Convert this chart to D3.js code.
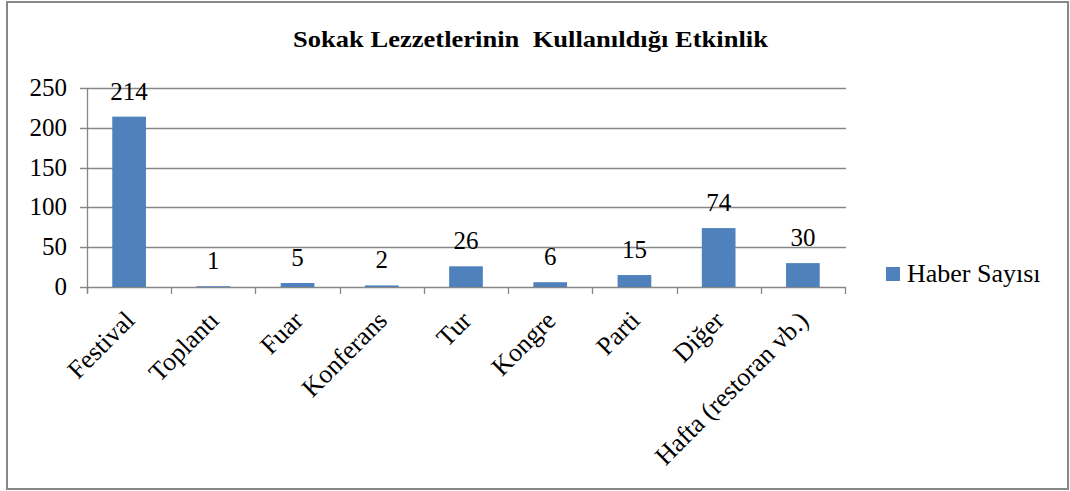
<!DOCTYPE html>
<html>
<head>
<meta charset="utf-8">
<script src="https://cdn.jsdelivr.net/npm/d3@7"></script>
<style>
  body { margin: 0; background: #fff; }
  svg text { font-family: "Liberation Serif", "Times New Roman", serif; fill: #000; }
</style>
</head>
<body>
<div id="chart"></div>
<script>
const chartTitle = "Sokak Lezzetlerinin  Kullanıldığı Etkinlik";
const categories = ["Festival", "Toplantı", "Fuar", "Konferans", "Tur", "Kongre", "Parti", "Diğer", "Hafta (restoran vb.)"];
const haberSayisi = [214, 1, 5, 2, 26, 6, 15, 74, 30];
const seriesName = "Haber Sayısı";
const yTicks = [0, 50, 100, 150, 200, 250];

const fullWidth = 1070,
  fullHeight = 491;
const plot = { left: 87, right: 845, top: 88, bottom: 287 };
const serif = "Liberation Serif, Times New Roman, serif";

const svg = d3
  .select("#chart")
  .append("svg")
  .attr("width", fullWidth)
  .attr("height", fullHeight)
  .attr("font-family", serif);

// cerceve
svg
  .append("rect")
  .attr("x", 7)
  .attr("y", 2)
  .attr("width", 1061)
  .attr("height", 487)
  .attr("fill", "#fff")
  .attr("stroke", "#878787")
  .attr("stroke-width", 2);

const xScale = d3
  .scaleBand()
  .domain(categories)
  .range([plot.left, plot.right])
  .paddingInner(0.6)
  .paddingOuter(0.3);

const xBand = d3
  .scaleBand()
  .domain(categories)
  .range([plot.left, plot.right]);

const yScale = d3.scaleLinear().domain([0, 250]).range([plot.bottom, plot.top]);

// grid
svg
  .append("g")
  .selectAll("line")
  .data(yTicks)
  .enter()
  .append("line")
  .attr("x1", plot.left - 7)
  .attr("x2", plot.right + 1)
  .attr("y1", (d) => Math.round(yScale(d)) + 0.5)
  .attr("y2", (d) => Math.round(yScale(d)) + 0.5)
  .attr("stroke", "#878787")
  .attr("stroke-width", 1.3);

// y axis line
svg
  .append("line")
  .attr("x1", plot.left + 0.5)
  .attr("x2", plot.left + 0.5)
  .attr("y1", plot.top)
  .attr("y2", plot.bottom + 6)
  .attr("stroke", "#878787")
  .attr("stroke-width", 1.3);

svg
  .append("g")
  .selectAll("text")
  .data(yTicks)
  .enter()
  .append("text")
  .attr("x", 67)
  .attr("y", (d) => yScale(d) + 8)
  .attr("text-anchor", "end")
  .attr("font-family", serif)
  .attr("font-size", 25)
  .text((d) => d);

// x tick marks
const xTickPos = categories.map((c) => xBand(c)).concat([plot.right]);
svg
  .append("g")
  .selectAll("line")
  .data(xTickPos)
  .enter()
  .append("line")
  .attr("x1", (d) => Math.round(d) + 0.5)
  .attr("x2", (d) => Math.round(d) + 0.5)
  .attr("y1", plot.bottom)
  .attr("y2", plot.bottom + 7)
  .attr("stroke", "#878787")
  .attr("stroke-width", 1.3);

// bars
svg
  .append("g")
  .selectAll("rect")
  .data(haberSayisi)
  .enter()
  .append("rect")
  .attr("x", (d, i) => xScale(categories[i]))
  .attr("y", (d) => yScale(d))
  .attr("width", xScale.bandwidth())
  .attr("height", (d) => yScale(0) - yScale(d))
  .attr("fill", "#4F81BD");

// veri etiketleri
svg
  .append("g")
  .selectAll("text")
  .data(haberSayisi)
  .enter()
  .append("text")
  .attr("x", (d, i) => xBand(categories[i]) + xBand.bandwidth() / 2)
  .attr("y", (d) => yScale(d) - 17)
  .attr("text-anchor", "middle")
  .attr("font-family", serif)
  .attr("font-size", 25)
  .text((d) => d);

// x etiketleri
svg
  .append("g")
  .selectAll("text")
  .data(categories)
  .enter()
  .append("text")
  .attr("text-anchor", "end")
  .attr(
    "transform",
    (d) => `translate(${xBand(d) + xBand.bandwidth() / 2 + 7},${plot.bottom + 35}) rotate(-45)`
  )
  .attr("font-family", serif)
  .attr("font-size", 26)
  .text((d) => d);

// baslik
svg
  .append("text")
  .attr("x", 293)
  .attr("y", 47)
  .attr("font-family", serif)
  .attr("font-size", 23)
  .attr("font-weight", "bold")
  .attr("textLength", 475)
  .attr("lengthAdjust", "spacingAndGlyphs")
  .style("white-space", "pre")
  .text(chartTitle);

// legend
svg
  .append("rect")
  .attr("x", 886)
  .attr("y", 267)
  .attr("width", 14)
  .attr("height", 14)
  .attr("fill", "#4F81BD");

svg
  .append("text")
  .attr("x", 907)
  .attr("y", 282)
  .attr("font-family", serif)
  .attr("font-size", 26)
  .text(seriesName);
</script>
</body>
</html>
